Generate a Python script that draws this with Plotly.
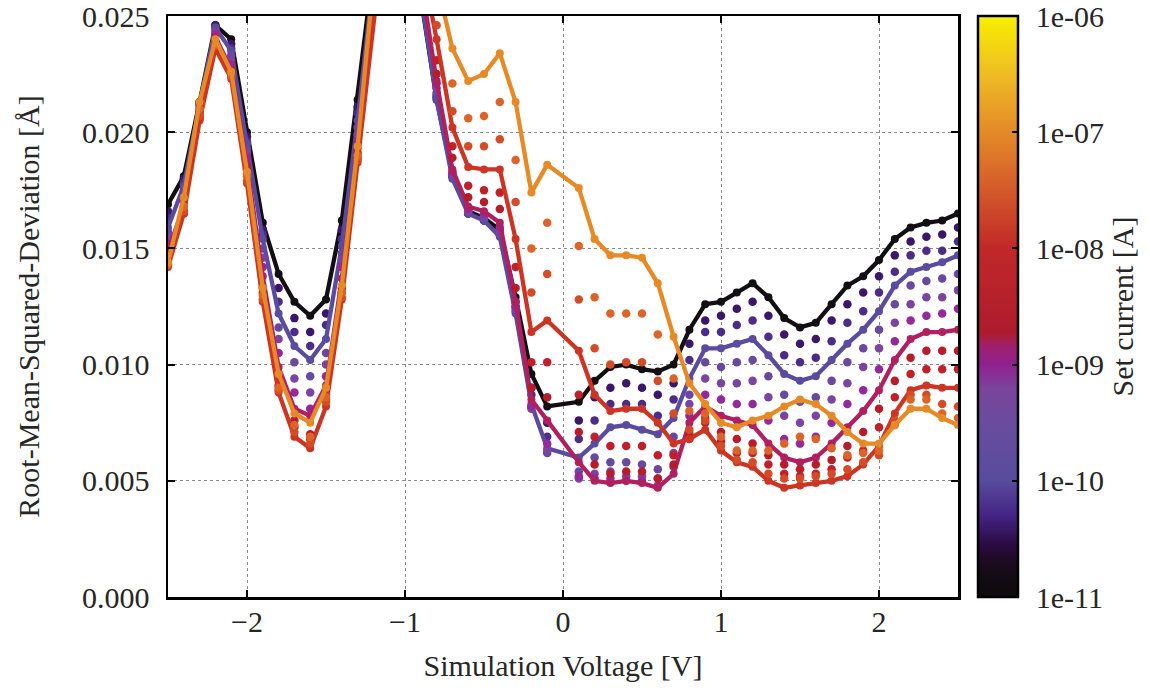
import plotly.graph_objects as go

# ---------------- data ----------------
voltage = [-2.5, -2.4, -2.3, -2.2, -2.1, -2.0, -1.9, -1.8, -1.7, -1.6, -1.5, -1.4, -1.3,
           -1.2, -1.1, -1.0, -0.9, -0.8, -0.7, -0.6, -0.5, -0.4, -0.3, -0.2, -0.1,
           0.1, 0.2, 0.3, 0.4, 0.5, 0.6, 0.7, 0.8, 0.9, 1.0, 1.1, 1.2, 1.3, 1.4, 1.5,
           1.6, 1.7, 1.8, 1.9, 2.0, 2.1, 2.2, 2.3, 2.4, 2.5]

set_currents = [1e-11, 2e-11, 5e-11, 1e-10, 2e-10, 4e-10, 7e-10,
                1e-9, 2e-9, 5e-9, 1e-8, 2e-8, 5e-8, 1e-7]

rmsd_1e_11 = [0.0169, 0.0181, 0.0213, 0.0246, 0.0240, 0.0200, 0.0161, 0.0139, 0.0127, 0.0121, 0.0128, 0.0162, 0.0214,
              0.0272, 0.0325, 0.0310, 0.0258, 0.0214, 0.0182, 0.0166, 0.0163, 0.0158, 0.0129, 0.0096, 0.0082,
              0.0084, 0.0093, 0.0099, 0.0100, 0.0098, 0.0097, 0.0100, 0.0115, 0.0126, 0.0127, 0.0131, 0.0135, 0.0129, 0.0120, 0.0116,
              0.0118, 0.0126, 0.0134, 0.0138, 0.0145, 0.0154, 0.0159, 0.0161, 0.0162, 0.0165]
rmsd_2e_11 = [0.0166, 0.0180, 0.0213, 0.0246, 0.0238, 0.0198, 0.0158, 0.0133, 0.0120, 0.0114, 0.0122, 0.0158, 0.0211,
              0.0270, 0.0322, 0.0308, 0.0259, 0.0215, 0.0181, 0.0165, 0.0162, 0.0157, 0.0127, 0.0090, 0.0075,
              0.0076, 0.0086, 0.0090, 0.0092, 0.0090, 0.0087, 0.0092, 0.0109, 0.0119, 0.0121, 0.0124, 0.0127, 0.0121, 0.0113, 0.0109,
              0.0111, 0.0119, 0.0126, 0.0131, 0.0138, 0.0147, 0.0153, 0.0155, 0.0156, 0.0159]
rmsd_5e_11 = [0.0163, 0.0178, 0.0212, 0.0245, 0.0236, 0.0196, 0.0156, 0.0127, 0.0114, 0.0108, 0.0117, 0.0154, 0.0208,
              0.0268, 0.0320, 0.0306, 0.0260, 0.0216, 0.0181, 0.0165, 0.0162, 0.0156, 0.0125, 0.0087, 0.0069,
              0.0068, 0.0076, 0.0083, 0.0083, 0.0083, 0.0078, 0.0085, 0.0102, 0.0114, 0.0114, 0.0117, 0.0119, 0.0112, 0.0104, 0.0101,
              0.0103, 0.0110, 0.0118, 0.0123, 0.0131, 0.0140, 0.0147, 0.0149, 0.0149, 0.0153]
rmsd_1e_10 = [0.0159, 0.0177, 0.0212, 0.0245, 0.0235, 0.0195, 0.0154, 0.0122, 0.0108, 0.0102, 0.0111, 0.0151, 0.0205,
              0.0266, 0.0318, 0.0304, 0.0260, 0.0214, 0.0180, 0.0165, 0.0162, 0.0155, 0.0122, 0.0083, 0.0064,
              0.0060, 0.0066, 0.0073, 0.0074, 0.0072, 0.0070, 0.0077, 0.0094, 0.0107, 0.0107, 0.0109, 0.0111, 0.0104, 0.0096, 0.0093,
              0.0095, 0.0102, 0.0109, 0.0115, 0.0123, 0.0134, 0.0140, 0.0142, 0.0144, 0.0147]
rmsd_2e_10 = [0.0157, 0.0175, 0.0211, 0.0244, 0.0233, 0.0193, 0.0150, 0.0116, 0.0101, 0.0095, 0.0105, 0.0148, 0.0202,
              0.0265, 0.0316, 0.0302, 0.0262, 0.0217, 0.0181, 0.0166, 0.0163, 0.0156, 0.0123, 0.0082, 0.0062,
              0.0054, 0.0060, 0.0058, 0.0058, 0.0057, 0.0055, 0.0069, 0.0087, 0.0101, 0.0099, 0.0101, 0.0102, 0.0095, 0.0087, 0.0084,
              0.0086, 0.0093, 0.0101, 0.0107, 0.0115, 0.0126, 0.0134, 0.0136, 0.0137, 0.0139]
rmsd_4e_10 = [0.0155, 0.0172, 0.0210, 0.0243, 0.0231, 0.0191, 0.0146, 0.0111, 0.0094, 0.0088, 0.0100, 0.0145, 0.0199,
              0.0263, 0.0314, 0.0300, 0.0263, 0.0219, 0.0182, 0.0166, 0.0164, 0.0157, 0.0124, 0.0081, 0.0063,
              0.0051, 0.0053, 0.0054, 0.0052, 0.0052, 0.0051, 0.0062, 0.0083, 0.0094, 0.0092, 0.0092, 0.0093, 0.0086, 0.0078, 0.0075,
              0.0078, 0.0085, 0.0092, 0.0099, 0.0107, 0.0118, 0.0126, 0.0129, 0.0129, 0.0132]
rmsd_7e_10 = [0.0152, 0.0170, 0.0209, 0.0242, 0.0229, 0.0189, 0.0142, 0.0105, 0.0088, 0.0081, 0.0095, 0.0142, 0.0196,
              0.0262, 0.0312, 0.0298, 0.0265, 0.0221, 0.0183, 0.0167, 0.0165, 0.0159, 0.0125, 0.0082, 0.0066,
              0.0052, 0.0051, 0.0051, 0.0050, 0.0050, 0.0048, 0.0056, 0.0078, 0.0087, 0.0085, 0.0083, 0.0083, 0.0076, 0.0068, 0.0066,
              0.0069, 0.0075, 0.0083, 0.0089, 0.0098, 0.0110, 0.0119, 0.0121, 0.0122, 0.0124]
rmsd_1e_9 = [0.0149, 0.0168, 0.0208, 0.0241, 0.0227, 0.0186, 0.0138, 0.0099, 0.0081, 0.0078, 0.0091, 0.0137, 0.0193,
             0.0260, 0.0310, 0.0296, 0.0266, 0.0222, 0.0184, 0.0168, 0.0166, 0.0161, 0.0127, 0.0085, 0.0076,
             0.0058, 0.0050, 0.0049, 0.0050, 0.0049, 0.0047, 0.0053, 0.0075, 0.0082, 0.0078, 0.0076, 0.0074, 0.0066, 0.0060, 0.0058,
             0.0060, 0.0066, 0.0073, 0.0080, 0.0089, 0.0102, 0.0111, 0.0114, 0.0114, 0.0115]
rmsd_2e_9 = [0.0147, 0.0166, 0.0207, 0.0239, 0.0226, 0.0184, 0.0133, 0.0094, 0.0076, 0.0070, 0.0087, 0.0133, 0.0191,
             0.0258, 0.0308, 0.0294, 0.0268, 0.0225, 0.0189, 0.0172, 0.0170, 0.0167, 0.0133, 0.0090, 0.0086,
             0.0071, 0.0057, 0.0053, 0.0054, 0.0054, 0.0051, 0.0057, 0.0070, 0.0077, 0.0071, 0.0068, 0.0066, 0.0061, 0.0057, 0.0055,
             0.0057, 0.0059, 0.0065, 0.0071, 0.0081, 0.0093, 0.0103, 0.0106, 0.0106, 0.0106]
rmsd_5e_9 = [0.0145, 0.0165, 0.0206, 0.0238, 0.0225, 0.0182, 0.0131, 0.0091, 0.0073, 0.0068, 0.0085, 0.0131, 0.0189,
             0.0256, 0.0306, 0.0295, 0.0271, 0.0231, 0.0194, 0.0177, 0.0175, 0.0174, 0.0142, 0.0101, 0.0101,
             0.0087, 0.0069, 0.0065, 0.0065, 0.0065, 0.0061, 0.0061, 0.0068, 0.0075, 0.0067, 0.0062, 0.0062, 0.0057, 0.0053, 0.0052,
             0.0053, 0.0055, 0.0060, 0.0063, 0.0073, 0.0086, 0.0096, 0.0098, 0.0098, 0.0098]
rmsd_1e_8 = [0.0142, 0.0165, 0.0205, 0.0236, 0.0223, 0.0178, 0.0127, 0.0088, 0.0069, 0.0064, 0.0082, 0.0128, 0.0187,
             0.0252, 0.0305, 0.0300, 0.0275, 0.0240, 0.0202, 0.0185, 0.0184, 0.0184, 0.0154, 0.0114, 0.0119,
             0.0106, 0.0087, 0.0080, 0.0081, 0.0081, 0.0075, 0.0066, 0.0068, 0.0072, 0.0063, 0.0058, 0.0056, 0.0050, 0.0047, 0.0048,
             0.0049, 0.0050, 0.0052, 0.0057, 0.0065, 0.0079, 0.0089, 0.0091, 0.0090, 0.0090]
rmsd_2e_8 = [0.0143, 0.0166, 0.0207, 0.0237, 0.0224, 0.0179, 0.0128, 0.0089, 0.0071, 0.0066, 0.0084, 0.0129, 0.0188,
             0.0253, 0.0310, 0.0310, 0.0285, 0.0246, 0.0209, 0.0194, 0.0194, 0.0197, 0.0170, 0.0131, 0.0139,
             0.0128, 0.0107, 0.0100, 0.0101, 0.0101, 0.0093, 0.0079, 0.0072, 0.0076, 0.0065, 0.0059, 0.0058, 0.0053, 0.0051, 0.0051,
             0.0052, 0.0053, 0.0055, 0.0058, 0.0061, 0.0076, 0.0087, 0.0087, 0.0083, 0.0082]
rmsd_5e_8 = [0.0143, 0.0168, 0.0210, 0.0238, 0.0225, 0.0181, 0.0130, 0.0090, 0.0074, 0.0069, 0.0086, 0.0131, 0.0190,
             0.0255, 0.0320, 0.0320, 0.0295, 0.0252, 0.0221, 0.0206, 0.0207, 0.0213, 0.0188, 0.0150, 0.0161,
             0.0151, 0.0129, 0.0122, 0.0122, 0.0122, 0.0113, 0.0094, 0.0080, 0.0079, 0.0069, 0.0063, 0.0063, 0.0063, 0.0066, 0.0069,
             0.0068, 0.0064, 0.0061, 0.0062, 0.0063, 0.0074, 0.0085, 0.0085, 0.0079, 0.0077]
rmsd_1e_7 = [0.0144, 0.0172, 0.0213, 0.0240, 0.0226, 0.0183, 0.0133, 0.0096, 0.0079, 0.0075, 0.0090, 0.0134, 0.0194,
             0.0258, 0.0335, 0.0345, 0.0310, 0.0265, 0.0236, 0.0222, 0.0225, 0.0234, 0.0213, 0.0174, 0.0186,
             0.0176, 0.0154, 0.0147, 0.0147, 0.0146, 0.0135, 0.0112, 0.0092, 0.0083, 0.0075, 0.0073, 0.0076, 0.0078, 0.0082, 0.0085,
             0.0083, 0.0078, 0.0071, 0.0066, 0.0066, 0.0074, 0.0081, 0.0081, 0.0077, 0.0074]

series = [rmsd_1e_11, rmsd_2e_11, rmsd_5e_11, rmsd_1e_10, rmsd_2e_10, rmsd_4e_10, rmsd_7e_10,
          rmsd_1e_9, rmsd_2e_9, rmsd_5e_9, rmsd_1e_8, rmsd_2e_8, rmsd_5e_8, rmsd_1e_7]

cbar_tickvals = [-11, -10, -9, -8, -7, -6]
cbar_ticktext = ["1e-11", "1e-10", "1e-09", "1e-08", "1e-07", "1e-06"]
y_tickvals = [0.0, 0.005, 0.010, 0.015, 0.020, 0.025]

# ---------------- style ----------------
series_colors = ["#120e12", "#3b1769", "#4b2d88", "#5a4ba0", "#6849a0", "#7a44a0", "#93299a",
                 "#b0205f", "#b61c2a", "#c0202a", "#cc3424", "#d44c26", "#dc6428", "#e68a28"]
drawn_as_line = [True, False, False, True, False, False, False,
                 True, False, False, True, False, False, True]

palette = [[0.00, "#0c0a0c"], [0.05, "#180c18"], [0.09, "#2a0a40"], [0.14, "#442484"],
           [0.20, "#584c9c"], [0.30, "#6a4c9e"], [0.36, "#7a449c"], [0.40, "#902090"],
           [0.43, "#9e2070"], [0.455, "#ae1c2c"], [0.60, "#c02828"], [0.70, "#d45a2a"],
           [0.80, "#e48a28"], [0.90, "#eebc24"], [1.00, "#f8f000"]]

FONT = "Liberation Serif"
TXT = "#262626"
SP = "\u2005\u200a"  # gap between colour bar and its labels

fig = go.Figure()
for vals, col, is_line, cur in zip(series, series_colors, drawn_as_line, set_currents):
    fig.add_trace(go.Scatter(
        x=voltage, y=vals,
        mode="lines+markers" if is_line else "markers",
        line=dict(color=col, width=4.3),
        marker=dict(color=col, size=8 if is_line else 8.5),
        name=f"{cur:.0e}", showlegend=False, cliponaxis=True,
    ))

# colour bar (log10 of set current)
fig.add_trace(go.Scatter(
    x=[None], y=[None], mode="markers", showlegend=False, hoverinfo="skip",
    marker=dict(color=[-11], cmin=-11, cmax=-6, colorscale=palette, showscale=True,
                colorbar=dict(
                    x=1.0253, xanchor="left", y=0.5, yanchor="middle",
                    len=1.0, lenmode="fraction", thickness=40,
                    outlinewidth=2.5, outlinecolor="black",
                    tickvals=cbar_tickvals, ticktext=[SP + t for t in cbar_ticktext],
                    ticks="inside", ticklen=7, tickwidth=2, tickcolor="black",
                    ticklabeloverflow="allow",
                    tickfont=dict(family=FONT, size=30, color=TXT),
                    title=dict(text="Set current [A]", side="right",
                               font=dict(family=FONT, size=30, color=TXT)),
                    xpad=0, ypad=0,
                )),
))

axis_common = dict(
    showline=True, linewidth=2.5, linecolor="black", mirror="ticks",
    ticks="inside", ticklen=7, tickwidth=2, tickcolor="black",
    showgrid=True, gridcolor="#8a8a8a", griddash="dot", gridwidth=1,
    zeroline=False, ticklabeloverflow="allow",
    tickfont=dict(family=FONT, size=30, color=TXT),
)

fig.update_xaxes(range=[-2.5, 2.5], dtick=1, tick0=0,
                 title=dict(text="Simulation Voltage [V]", font=dict(family=FONT, size=30, color=TXT),
                            standoff=19),
                 ticklabelstandoff=-4, **axis_common)
fig.update_yaxes(range=[0, 0.025], tickvals=y_tickvals, tickformat=".3f",
                 title=dict(text="Root-Mean-Squared-Deviation [Å]",
                            font=dict(family=FONT, size=30, color=TXT), standoff=34),
                 ticklabelstandoff=10, **axis_common)

fig.update_layout(
    width=1150, height=691,
    margin=dict(l=168, r=192, t=16, b=94, autoexpand=False),
    paper_bgcolor="white", plot_bgcolor="white",
    font=dict(family=FONT, size=30, color=TXT),
    hovermode=False,
)

fig.write_html("out.html", config={"displayModeBar": False, "staticPlot": True},
               post_script="document.body.style.margin='0px';")
